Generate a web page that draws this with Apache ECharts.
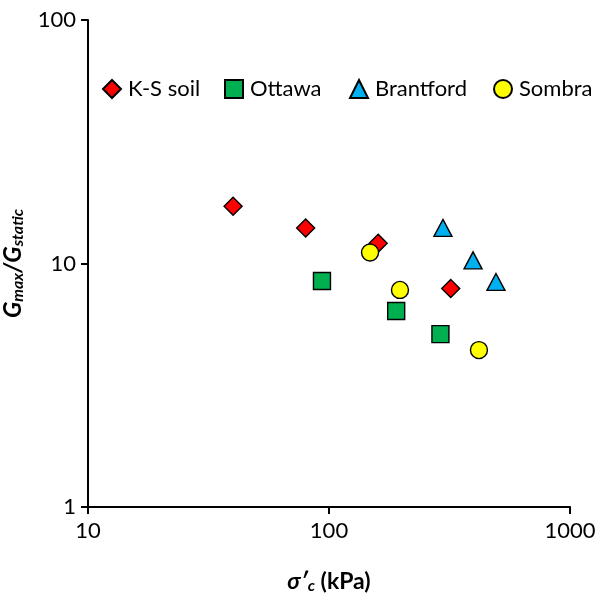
<!DOCTYPE html>
<html><head><meta charset="utf-8">
<script src="https://cdn.jsdelivr.net/npm/echarts@6/dist/echarts.min.js"></script>
<style>html,body{margin:0;padding:0;background:#fff}#c{width:600px;height:597px}</style>
</head><body><div id="c"></div>
<script>
const ksX = [40, 80, 160, 320];
const ksY = [17.2, 14.0, 12.1, 7.9];
const otX = [93.5, 190, 290];
const otY = [8.47, 6.38, 5.13];
const brX = [297, 396, 493];
const brY = [14.0, 10.3, 8.4];
const soX = [148, 197, 419];
const soY = [11.1, 7.79, 4.41];
const seriesNames = ['K-S soil', 'Ottawa', 'Brantford', 'Sombra'];
const xTicks = [10, 100, 1000];
const yTicks = [1, 10, 100];

const font = 'Lato, "Open Sans", sans-serif';
function pts(xs, ys) { return xs.map((x, i) => [x, ys[i]]); }
const mk = (name, xs, ys, symbol, color, size) => ({
  name, type: 'scatter', data: pts(xs, ys), symbol, symbolSize: size,
  itemStyle: { color, borderColor: '#000', borderWidth: 1.4, opacity: 1 },
  emphasis: { disabled: true }
});
const legendLefts = [102, 224, 349, 493];
const legends = seriesNames.map((n, i) => ({
  data: [n], left: legendLefts[i], top: 78, padding: 0, itemWidth: 18, itemHeight: 18, itemGap: 0,
  textStyle: { fontFamily: font, fontSize: 22, color: '#000', padding: [0, 0, 0, 2] }
}));
const chart = echarts.init(document.getElementById('c'), null, { renderer: 'canvas' });
chart.setOption({
  animation: false,
  grid: { left: 88, right: 30, top: 20, bottom: 90, containLabel: false, outerBoundsMode: 'none' },
  legend: legends,
  xAxis: {
    type: 'log', logBase: 10, min: xTicks[0], max: xTicks[2],
    axisLine: { lineStyle: { color: '#000', width: 2 } },
    axisTick: { show: true, length: 7, lineStyle: { color: '#000', width: 2 } },
    minorTick: { show: false },
    splitLine: { show: false },
    axisLabel: { fontFamily: font, fontSize: 22, color: '#000', margin: 13,
      formatter: v => xTicks.includes(Math.round(v)) ? String(Math.round(v)) : '' },
    name: '{s|σ′}{sub|c}{n| (kPa)}', nameLocation: 'middle', nameGap: 62,
    nameTextStyle: { rich: {
      s: { fontFamily: font, fontSize: 23, fontWeight: 'bold', fontStyle: 'italic', color: '#000' },
      sub: { fontFamily: font, fontSize: 16, fontWeight: 'bold', fontStyle: 'italic', color: '#000', verticalAlign: 'bottom', padding: [9, 0, 0, 0] },
      n: { fontFamily: font, fontSize: 23, fontWeight: 'bold', color: '#000' }
    } }
  },
  yAxis: {
    type: 'log', logBase: 10, min: yTicks[0], max: yTicks[2],
    axisLine: { lineStyle: { color: '#000', width: 2 } },
    axisTick: { show: true, length: 7, lineStyle: { color: '#000', width: 2 } },
    splitLine: { show: false },
    axisLabel: { fontFamily: font, fontSize: 22, color: '#000', margin: 12,
      formatter: v => yTicks.includes(Math.round(v)) ? String(Math.round(v)) : '' },
    name: '{g|G}{sub|max}{g|/G}{sub|static}', nameLocation: 'middle', nameGap: 62, nameRotate: 90,
    nameTextStyle: { rich: {
      g: { fontFamily: font, fontSize: 24, fontWeight: 'bold', fontStyle: 'italic', color: '#000' },
      sub: { fontFamily: font, fontSize: 16, fontWeight: 'bold', fontStyle: 'italic', color: '#000', verticalAlign: 'bottom', padding: [9, 0, 0, 0] }
    } }
  },
  series: [
    mk(seriesNames[0], ksX, ksY, 'diamond', '#ff0000', [18, 18]),
    mk(seriesNames[1], otX, otY, 'rect', '#00b050', 17),
    mk(seriesNames[2], brX, brY, 'triangle', '#00b0f0', [18, 17]),
    mk(seriesNames[3], soX, soY, 'circle', '#ffff00', 17)
  ]
});
</script></body></html>
